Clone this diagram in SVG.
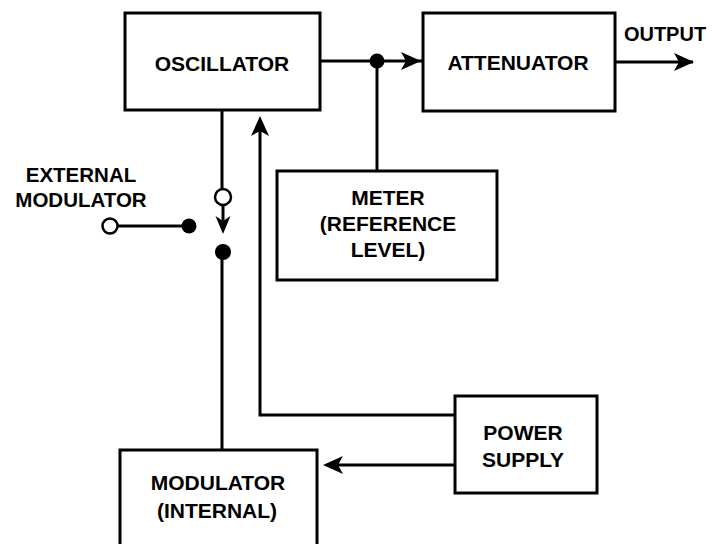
<svg xmlns="http://www.w3.org/2000/svg" xmlns:xlink="http://www.w3.org/1999/xlink" width="712" height="544" viewBox="0 0 712 544">
<style>
.box{fill:#fff;stroke:#000;stroke-width:3}
.ln{fill:none;stroke:#000;stroke-width:3}
.t{font-family:"Liberation Sans",Arial,sans-serif;font-weight:bold;font-size:21px;fill:#000;text-anchor:middle}
.dot{fill:#000}
.open{fill:#fff;stroke:#000;stroke-width:2.5}
</style>
<defs>
<path id="ah" d="M0,0 L-20,-9 L-15,0 L-20,9 Z" fill="#000"/>
<path id="ahs" d="M0,0 L-18,-7.5 L-13,0 L-18,7.5 Z" fill="#000"/>
</defs>
<rect width="712" height="544" fill="#fff"/>
<g id="connectors">
<line class="ln" x1="320" y1="61" x2="423" y2="61"/>
<use href="#ah" transform="translate(421,61)"/>
<circle class="dot" cx="377" cy="61" r="7.5"/>
<line class="ln" x1="377" y1="61" x2="377" y2="171"/>
<line class="ln" x1="615" y1="62" x2="693" y2="62"/>
<use href="#ah" transform="translate(694,62)"/>
<polyline class="ln" points="455,415 260,415 260,125"/>
<use href="#ah" transform="translate(260,116) rotate(-90)"/>
<line class="ln" x1="455" y1="465" x2="335" y2="465"/>
<use href="#ah" transform="translate(323,465) rotate(180)"/>
<line class="ln" x1="222" y1="110" x2="222" y2="189"/>
<circle class="open" cx="223" cy="197" r="8"/>
<line class="ln" x1="223" y1="205" x2="223" y2="225"/>
<use href="#ahs" transform="translate(223,234) rotate(90)"/>
<circle class="dot" cx="223" cy="252" r="8"/>
<line class="ln" x1="222" y1="252" x2="222" y2="450"/>
<circle class="open" cx="110" cy="226" r="7.5"/>
<line class="ln" x1="117.5" y1="226" x2="189" y2="226"/>
<circle class="dot" cx="189" cy="226" r="7.5"/>
</g>
<g id="oscillator">
<rect class="box" x="125" y="13" width="195" height="97"/>
<text class="t" x="222" y="71">OSCILLATOR</text>
</g>
<g id="attenuator">
<rect class="box" x="423" y="13" width="192" height="98"/>
<text class="t" x="518" y="70">ATTENUATOR</text>
</g>
<g id="output">
<text class="t" x="665" y="41" style="font-size:20px">OUTPUT</text>
</g>
<g id="meter">
<rect class="box" x="277" y="171" width="220" height="109"/>
<text class="t" x="388" y="205">METER</text>
<text class="t" x="388" y="231">(REFERENCE</text>
<text class="t" x="388" y="257">LEVEL)</text>
</g>
<g id="external-modulator">
<text class="t" x="81" y="182" style="font-size:20.5px">EXTERNAL</text>
<text class="t" x="81" y="207" style="font-size:20.5px">MODULATOR</text>
</g>
<g id="power-supply">
<rect class="box" x="455" y="396" width="142" height="97"/>
<text class="t" x="523" y="440">POWER</text>
<text class="t" x="523" y="467">SUPPLY</text>
</g>
<g id="modulator-internal">
<rect class="box" x="120" y="450" width="197" height="110"/>
<text class="t" x="218" y="490">MODULATOR</text>
<text class="t" x="217" y="518">(INTERNAL)</text>
</g>
</svg>
